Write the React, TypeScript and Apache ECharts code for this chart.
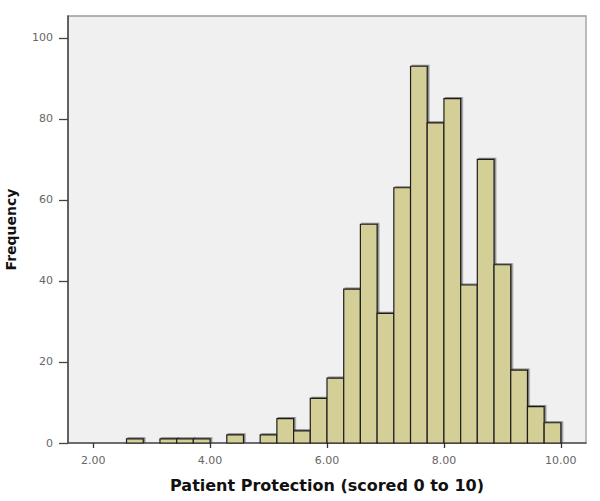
import React, { useEffect, useRef } from "react";
import * as echarts from "echarts";

// Histogram bin edges and frequencies per bin
const binEdges = [
  2.571, 2.857, 3.143, 3.429, 3.714, 4.0, 4.286, 4.571, 4.857, 5.143, 5.429,
  5.714, 6.0, 6.286, 6.571, 6.857, 7.143, 7.429, 7.714, 8.0, 8.286, 8.571,
  8.857, 9.143, 9.429, 9.714, 10.0,
];
const counts = [
  1, 0, 1, 1, 1, 0, 2, 0, 2, 6, 3, 11, 16, 38, 54, 32, 63, 93, 79, 85, 39, 70,
  44, 18, 9, 5,
];
const xTicks = [2, 4, 6, 8, 10];
const yTicks = [0, 20, 40, 60, 80, 100];

export default function App() {
  const ref = useRef<HTMLDivElement>(null);
  useEffect(() => {
    if (!ref.current) return;
    const chart = echarts.init(ref.current, undefined, { renderer: "svg" });
    const data = counts.map((c, i) => [binEdges[i], binEdges[i + 1], c]);
    chart.setOption({
      animation: false,
      backgroundColor: "#ffffff",
      grid: {
        left: 68,
        top: 16,
        right: 14,
        bottom: 58,
        outerBoundsMode: "none",
        containLabel: false,
        show: true,
        backgroundColor: "#f0f0f0",
        borderColor: "#9a9a9a",
        borderWidth: 1.3,
      },
      xAxis: {
        type: "value",
        min: 1.57,
        max: 10.43,
        name: "Patient Protection (scored 0 to 10)",
        nameLocation: "middle",
        nameGap: 34,
        nameTextStyle: {
          fontFamily: "DejaVu Sans",
          fontWeight: "bold",
          fontSize: 16,
          color: "#111",
        },
        axisLine: { show: true, lineStyle: { color: "#555", width: 1.5 } },
        axisTick: {
          show: true,
          customValues: xTicks,
          length: 5,
          lineStyle: { color: "#333", width: 1.3 },
        },
        axisLabel: {
          customValues: xTicks,
          formatter: (v: number) => v.toFixed(2),
          fontFamily: "DejaVu Sans",
          fontSize: 11,
          color: "#666",
          margin: 12,
        },
        splitLine: { show: false },
      },
      yAxis: {
        type: "value",
        min: 0,
        max: 105.4,
        name: "Frequency",
        nameLocation: "middle",
        nameGap: 50,
        nameRotate: 90,
        nameTextStyle: {
          fontFamily: "DejaVu Sans",
          fontWeight: "bold",
          fontSize: 14,
          color: "#111",
        },
        axisLine: { show: true, lineStyle: { color: "#444", width: 1.5 } },
        axisTick: {
          show: true,
          customValues: yTicks,
          length: 9,
          lineStyle: { color: "#444", width: 1.3 },
        },
        axisLabel: {
          customValues: yTicks,
          fontFamily: "DejaVu Sans",
          fontSize: 11,
          color: "#666",
          margin: 15,
        },
        splitLine: { show: false },
      },
      series: [
        {
          type: "custom",
          data,
          encode: { x: [0, 1], y: 2 },
          renderItem: (params: any, api: any) => {
            const start = api.value(0);
            const end = api.value(1);
            const c = api.value(2);
            if (!c) return null;
            const p0 = api.coord([start, c]);
            const p1 = api.coord([end, 0]);
            return {
              type: "rect",
              shape: {
                x: p0[0],
                y: p0[1],
                width: p1[0] - p0[0],
                height: p1[1] - p0[1],
              },
              style: {
                fill: "#d4cf97",
                stroke: "#1e1e1e",
                lineWidth: 1.2,
                shadowBlur: 1,
                shadowColor: "rgba(0,0,0,0.45)",
                shadowOffsetX: 1.5,
                shadowOffsetY: -1,
              },
            };
          },
        },
      ],
    });
    return () => chart.dispose();
  }, []);
  return (
    <div
      ref={ref}
      style={{ position: "fixed", left: 0, top: 0, width: 600, height: 501 }}
    />
  );
}
